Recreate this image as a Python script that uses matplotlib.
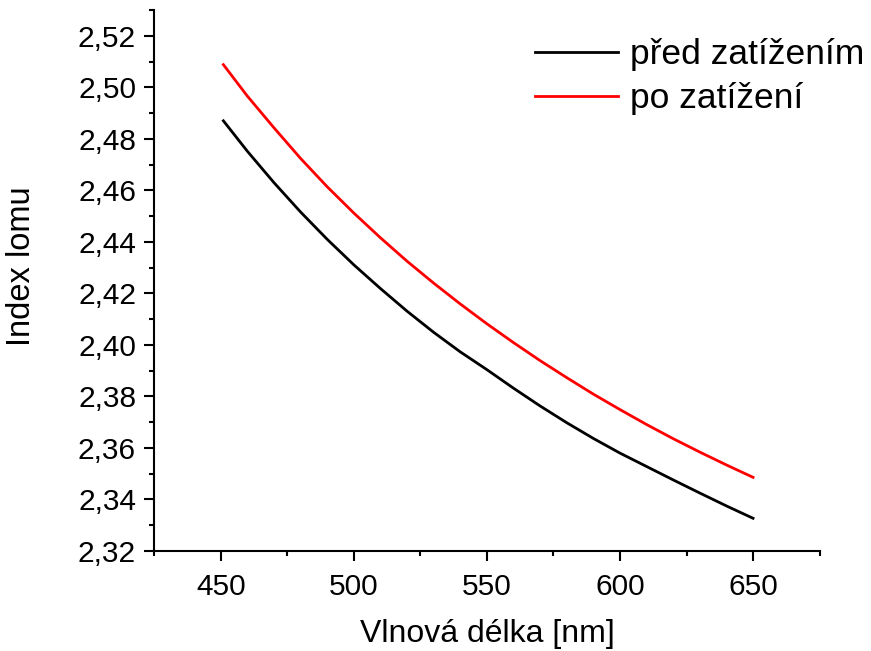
import matplotlib
matplotlib.use("Agg")
import matplotlib.pyplot as plt
from matplotlib.ticker import MultipleLocator, FuncFormatter

plt.rcParams['font.family'] = ['Liberation Sans', 'DejaVu Sans']

wavelength = [451, 460, 470, 480, 490, 500, 510, 520, 530, 540, 550,
              560, 570, 580, 590, 600, 610, 620, 630, 640, 650]
before = [2.4870, 2.4752, 2.4630, 2.4516, 2.4410, 2.4311, 2.4219, 2.4131, 2.4049, 2.3973, 2.3904,
          2.3832, 2.3763, 2.3698, 2.3637, 2.3580, 2.3528, 2.3476, 2.3425, 2.3375, 2.3327]
after = [2.5088, 2.4966, 2.4843, 2.4724, 2.4614, 2.4512, 2.4416, 2.4325, 2.4240, 2.4159, 2.4082,
         2.4009, 2.3939, 2.3873, 2.3809, 2.3749, 2.3691, 2.3636, 2.3584, 2.3534, 2.3486]
labels = ["před zatížením", "po zatížení"]

fig = plt.figure(figsize=(8.71, 6.51), dpi=100)
ax = fig.add_axes([0.177, 0.1536, 0.764, 0.831])
ax.plot(wavelength, before, color='black', lw=2.0, label=labels[0])
ax.plot(wavelength, after, color='red', lw=2.0, label=labels[1])

ax.set_xlim(425, 675)
ax.set_ylim(2.32, 2.53)
ax.xaxis.set_major_locator(MultipleLocator(50))
ax.xaxis.set_minor_locator(MultipleLocator(25))
ax.yaxis.set_major_locator(MultipleLocator(0.02))
ax.yaxis.set_minor_locator(MultipleLocator(0.01))
ax.yaxis.set_major_formatter(FuncFormatter(lambda v, p: f"{v:.2f}".replace('.', ',')))

for s in ['top', 'right']:
    ax.spines[s].set_visible(False)
for s in ['left', 'bottom']:
    ax.spines[s].set_linewidth(1.5)

ax.tick_params(which='major', direction='out', length=7, width=1.5, labelsize=21.5)
ax.tick_params(axis='x', which='major', pad=9)
ax.tick_params(axis='y', which='major', pad=6)
ax.tick_params(which='minor', direction='out', length=3.6, width=1.5)

ax.set_xlabel("Vlnová délka [nm]", fontsize=23, labelpad=13)
ax.set_ylabel("Index lomu", fontsize=23.5)
ax.yaxis.set_label_coords(-0.176, 0.527)

leg = ax.legend(loc='upper left', bbox_to_anchor=(535 / 871, 1 - 38 / 651),
                bbox_transform=fig.transFigure, frameon=False, fontsize=25.5,
                handlelength=2.35, handletextpad=0.34, labelspacing=0.31,
                borderpad=0, borderaxespad=0)

fig.savefig("out.png", dpi=100)
